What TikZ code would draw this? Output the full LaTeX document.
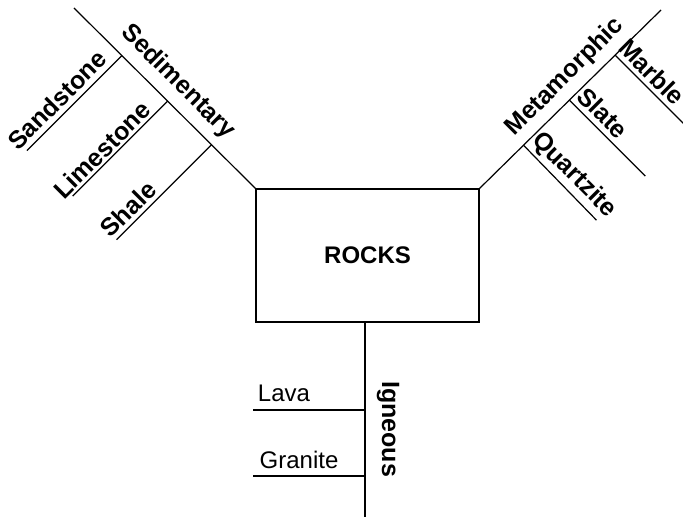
\documentclass[tikz,border=0pt]{standalone}
\usepackage{fontspec}
\setmainfont{Liberation Sans}
\usetikzlibrary{calc,positioning}

\tikzset{
  rock/.style={draw,line width=0.6pt,minimum width=111.5pt,minimum height=66.5pt,inner sep=0pt,font=\fontsize{12}{14}\selectfont\bfseries},
  kind/.style={inner sep=0pt,font=\fontsize{12.5}{14}\selectfont\bfseries},
  sort/.style={inner sep=0pt,font=\fontsize{12}{14}\selectfont},
  stem/.style={line width=0.6pt}
}

\begin{document}
\begin{tikzpicture}[x=0.5pt,y=-0.5pt]
        \useasboundingbox (0,0) rectangle (683,517);
        % the box in the middle
        \node[rock] (rocks) at (367.5,255.5) {ROCKS};
        % free ends of the three main lines
        \coordinate (sedEnd) at (74,8);
        \coordinate (metEnd) at (661,10);
        \coordinate (ignEnd) at (365,517);
        \coordinate (ignTop) at (365,322);
        \draw[stem] (rocks.north west) -- (sedEnd);
        \draw[stem] (rocks.north east) -- (metEnd);
        \draw[stem] (ignTop) -- (ignEnd);
        % Sedimentary side
        \coordinate (sandA) at ($(rocks.north west)!0.736!(sedEnd)$);
        \coordinate (limeA) at ($(rocks.north west)!0.484!(sedEnd)$);
        \coordinate (shalA) at ($(rocks.north west)!0.242!(sedEnd)$);
        \coordinate (sandB) at ($(sandA)+(-95,95)$);
        \coordinate (limeB) at ($(limeA)+(-95,95)$);
        \coordinate (shalB) at ($(shalA)+(-95,95)$);
        \draw[stem] (sandA) -- (sandB);
        \draw[stem] (limeA) -- (limeB);
        \draw[stem] (shalA) -- (shalB);
        \node[kind,rotate=-45] (sed) at (178,82) {Sedimentary};
        \node[kind,rotate=45] (sand) at (57,100) {Sandstone};
        \node[kind,rotate=45] (lime) at (102,150) {Limestone};
        \node[kind,rotate=45] (shale) at (128,209) {Shale};
        % Metamorphic side
        \coordinate (marbA) at ($(rocks.north east)!0.747!(metEnd)$);
        \coordinate (slatA) at ($(rocks.north east)!0.495!(metEnd)$);
        \coordinate (quarA) at ($(rocks.north east)!0.242!(metEnd)$);
        \coordinate (marbB) at ($(marbA)+(70,70)$);
        \coordinate (slatB) at ($(slatA)+(76,76)$);
        \coordinate (quarB) at ($(quarA)+(73,75)$);
        \draw[stem] (marbA) -- (marbB);
        \draw[stem] (slatA) -- (slatB);
        \draw[stem] (quarA) -- (quarB);
        \node[kind,rotate=45] (met) at (565,77) {Metamorphic};
        \node[kind,rotate=-45] (marble) at (652,72) {Marble};
        \node[kind,rotate=-45] (slate) at (603,113) {Slate};
        \node[kind,rotate=-45] (quartz) at (574,175) {Quartzite};
        % Igneous side
        \coordinate (lavaA) at (365,410);
        \coordinate (granA) at (365,476);
        \coordinate (lavaB) at (253,410);
        \coordinate (granB) at (253,476);
        \draw[stem] (lavaA) -- (lavaB);
        \draw[stem] (granA) -- (granB);
        \node[kind,rotate=-90] (ign) at (388,429) {Igneous};
        \node[sort] (lava) at (284,393) {Lava};
        \node[sort] (granite) at (299,460) {Granite};
      \end{tikzpicture}
\end{document}
